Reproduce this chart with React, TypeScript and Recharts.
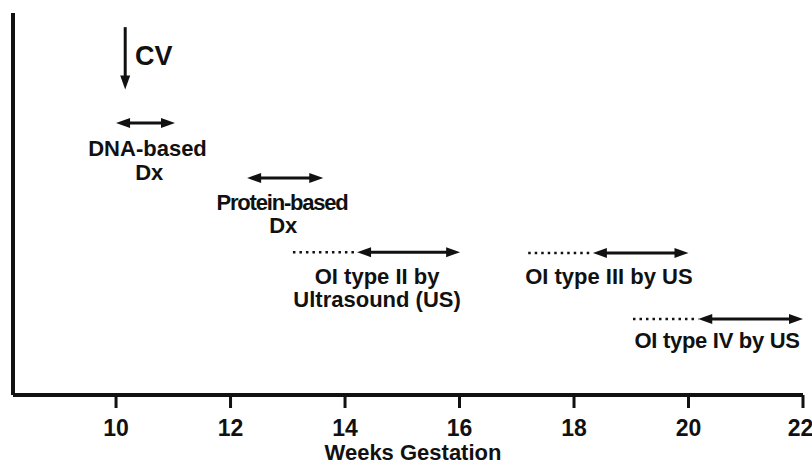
import React from 'react';
import { ScatterChart, Scatter, XAxis, YAxis, ReferenceLine } from 'recharts';

const FONT = "'Liberation Sans', Arial, Helvetica, sans-serif";
const INK = '#111';

// x axis (weeks gestation)
const weekTicks = [10, 12, 14, 16, 18, 20, 22];

// arrows: time windows for each diagnostic approach (y = vertical level, 0..100)
const arrowNames = ['CV', 'DNA-based Dx', 'Protein-based Dx', 'OI type II by US', 'OI type III by US', 'OI type IV by US'];
const arrowFrom = [10.16, 10.0, 12.29, 14.21, 18.33, 20.17];
const arrowTo = [10.16, 11.03, 13.62, 16.01, 20.0, 22.0];
const arrowLevelFrom = [96.3, 71.2, 56.8, 37.4, 37.2, 19.9];
const arrowLevelTo = [80.0, 71.2, 56.8, 37.4, 37.2, 19.9];
const arrowTwoHeads = [false, true, true, true, true, true];
const dottedFrom = [null, null, null, 13.09, 17.2, 19.03];

// text labels
const labelText = ['CV', 'DNA-based', 'Dx', 'Protein-based', 'Dx', 'OI type II by', 'Ultrasound (US)', 'OI type III by US', 'OI type IV by US'];
const labelWeek = [10.33, 10.55, 10.58, 12.9, 12.92, 14.56, 14.56, 18.61, 20.5];
const labelLevel = [89.0, 64.7, 58.4, 50.5, 44.5, 31.2, 25.1, 31.2, 14.4];

const labelData = labelText.map((text, i) => ({ x: labelWeek[i], y: labelLevel[i], text }));

function drawArrow(p: any, twoHeads: boolean) {
  const { x1, y1, x2, y2 } = p;
  const len = Math.hypot(x2 - x1, y2 - y1) || 1;
  const ux = (x2 - x1) / len;
  const uy = (y2 - y1) / len;
  const nx = -uy;
  const ny = ux;
  const L = 14;
  const W = 5;
  const sx = twoHeads ? x1 + ux * (L - 2) : x1;
  const sy = twoHeads ? y1 + uy * (L - 2) : y1;
  const ex = x2 - ux * (L - 2);
  const ey = y2 - uy * (L - 2);
  const head = (tx: number, ty: number, dx: number, dy: number) => {
    const bx = tx - dx * L;
    const by = ty - dy * L;
    return `${tx},${ty} ${bx + nx * W},${by + ny * W} ${bx - nx * W},${by - ny * W}`;
  };
  return (
    <g>
      <line x1={sx} y1={sy} x2={ex} y2={ey} stroke={INK} strokeWidth={3} />
      <polygon points={head(x2, y2, ux, uy)} fill={INK} />
      {twoHeads && <polygon points={head(x1, y1, -ux, -uy)} fill={INK} />}
    </g>
  );
}

function drawDotted(p: any) {
  const { x1, y1, x2, y2 } = p;
  return <line x1={x1} y1={y1} x2={x2} y2={y2} stroke={INK} strokeWidth={2.5} strokeDasharray="2.5 4" />;
}

function LabelShape(props: any) {
  const { cx, cy, payload } = props;
  const isCV = payload.text === 'CV';
  const isProtein = payload.text === 'Protein-based';
  const isIV = payload.text === 'OI type IV by US';
  const size = isCV ? 27 : 22;
  return (
    <text
      x={cx}
      y={cy}
      dy="0.36em"
      textAnchor={isCV ? 'start' : 'middle'}
      fontSize={size}
      fontWeight="bold"
      fontFamily={FONT}
      fill={INK}
      letterSpacing={isProtein ? -1.2 : isIV ? -0.3 : 0}
    >
      {payload.text}
    </text>
  );
}

export default function App() {
  return (
    <div style={{ position: 'absolute', left: 0, top: 0, width: 812, height: 465, background: '#fff' }}>
      <ScatterChart width={812} height={465} margin={{ top: 13, right: 9, left: 11, bottom: 0 }}>
        <XAxis
          type="number"
          dataKey="x"
          domain={[8.2, 22]}
          ticks={weekTicks}
          allowDataOverflow
          height={70}
          axisLine={{ stroke: INK, strokeWidth: 4 }}
          tickLine={{ stroke: INK, strokeWidth: 3 }}
          tickSize={13}
          tickMargin={12}
          tick={{ fill: INK, fontSize: 23, fontWeight: 'bold', fontFamily: FONT }}
          label={{
            value: 'Weeks Gestation',
            position: 'insideBottom',
            offset: 5,
            dx: 5,
            fill: INK,
            fontSize: 22,
            fontWeight: 'bold',
            fontFamily: FONT,
          }}
        />
        <YAxis
          type="number"
          dataKey="y"
          domain={[0, 100]}
          allowDataOverflow
          width={2}
          tick={false}
          tickLine={false}
          axisLine={{ stroke: INK, strokeWidth: 4 }}
        />
        {arrowNames.map((name, i) =>
          dottedFrom[i] != null ? (
            <ReferenceLine
              key={`dot-${name}`}
              segment={[
                { x: dottedFrom[i] as number, y: arrowLevelFrom[i] },
                { x: arrowFrom[i], y: arrowLevelFrom[i] },
              ]}
              ifOverflow="visible"
              shape={(p: any) => drawDotted(p)}
            />
          ) : null
        )}
        {arrowNames.map((name, i) => (
          <ReferenceLine
            key={`arr-${name}`}
            segment={[
              { x: arrowFrom[i], y: arrowLevelFrom[i] },
              { x: arrowTo[i], y: arrowLevelTo[i] },
            ]}
            ifOverflow="visible"
            shape={(p: any) => drawArrow(p, arrowTwoHeads[i])}
          />
        ))}
        <Scatter data={labelData} shape={LabelShape} isAnimationActive={false} />
      </ScatterChart>
    </div>
  );
}
